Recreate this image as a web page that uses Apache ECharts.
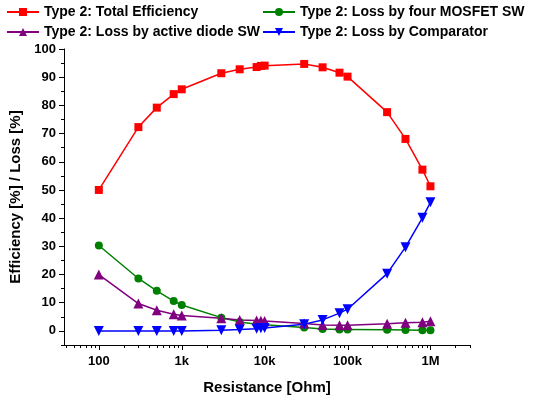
<!DOCTYPE html>
<html>
<head>
<meta charset="utf-8">
<script src="https://cdn.jsdelivr.net/npm/echarts@6/dist/echarts.min.js"></script>
<style>html,body{margin:0;padding:0;background:#fff}#c{width:541px;height:401px}</style>
</head>
<body>
<div id="c"></div>
<script>
var resistance = [100, 300, 500, 800, 1000, 3000, 5000, 8000, 9000, 10000, 30000, 50000, 80000, 100000, 300000, 500000, 800000, 1000000];
var totalEfficiency = [50.0, 72.3, 79.2, 84.0, 85.7, 91.4, 92.8, 93.6, 94.0, 94.1, 94.7, 93.5, 91.6, 90.2, 77.6, 68.1, 57.2, 51.3];
var lossMosfet = [30.3, 18.6, 14.2, 10.6, 9.2, 4.7, 3.2, 2.4, 2.3, 2.2, 1.2, 0.7, 0.5, 0.5, 0.4, 0.3, 0.2, 0.2];
var lossDiode = [20.0, 9.7, 7.3, 5.9, 5.5, 4.5, 3.9, 3.7, 3.6, 3.5, 2.6, 2.1, 2.0, 2.0, 2.5, 2.9, 3.1, 3.4];
var lossComparator = [0.0, 0.0, 0.0, 0.0, 0.0, 0.2, 0.5, 0.8, 0.9, 1.0, 2.4, 3.9, 6.3, 7.7, 20.3, 29.7, 40.1, 45.6];
var seriesNames = ['Type 2: Total Efficiency', 'Type 2: Loss by four MOSFET SW', 'Type 2: Loss by active diode SW', 'Type 2: Loss by Comparator'];
var xMajorTicks = [100, 1000, 10000, 100000, 1000000];
var xMinorTicks = [40, 50, 60, 70, 80, 90, 200, 300, 400, 500, 600, 700, 800, 900, 2000, 3000, 4000, 5000, 6000, 7000, 8000, 9000, 20000, 30000, 40000, 50000, 60000, 70000, 80000, 90000, 200000, 300000, 400000, 500000, 600000, 700000, 800000, 900000, 2000000, 3000000];
var xTickLabels = ['100', '1k', '10k', '100k', '1M'];
var yMajorTicks = [0, 10, 20, 30, 40, 50, 60, 70, 80, 90, 100];
var yMinorTicks = [-5, 5, 15, 25, 35, 45, 55, 65, 75, 85, 95];

var xMin = 38, xMax = 3000000, yMin = -5, yMax = 100;
var font = 'Arial, "Liberation Sans", sans-serif';

function pairs(vals) { return resistance.map(function (r, i) { return [r, vals[i]]; }); }

var tickData = xMajorTicks.map(function (v) { return [v, 1]; }).concat(xMinorTicks.map(function (v) { return [v, 0]; }));

var chart = echarts.init(document.getElementById('c'), null, {renderer: 'canvas'});
var labelStyle = {fontFamily: font, fontWeight: 'bold', fontSize: 13, color: '#000'};
var legendText = {fontFamily: font, fontWeight: 'bold', fontSize: 14, color: '#000'};

chart.setOption({
  animation: false,
  backgroundColor: '#fff',
  grid: {left: 64, right: 71, top: 49, bottom: 56, containLabel: false},
  legend: [
    {orient: 'vertical', left: 6, top: 5, padding: 0, itemGap: 6, itemWidth: 32, itemHeight: 10, textStyle: legendText,
     data: [seriesNames[0], seriesNames[2]]},
    {orient: 'vertical', left: 262, top: 5, padding: 0, itemGap: 6, itemWidth: 32, itemHeight: 10, textStyle: legendText,
     data: [seriesNames[1], seriesNames[3]]}
  ],
  xAxis: {
    type: 'log', logBase: 10, min: xMin, max: xMax,
    name: 'Resistance [Ohm]', nameLocation: 'middle', nameGap: 35,
    nameTextStyle: {fontFamily: font, fontWeight: 'bold', fontSize: 15, color: '#000'},
    axisLine: {show: true, onZero: false, lineStyle: {color: '#000', width: 1}},
    axisTick: {show: false},
    splitLine: {show: false},
    axisLabel: Object.assign({margin: 10, showMinLabel: false, showMaxLabel: false, formatter: function (v) {
      var i = xMajorTicks.indexOf(Math.round(v));
      return i >= 0 ? xTickLabels[i] : '';
    }}, labelStyle)
  },
  yAxis: [
    {
      type: 'value', min: yMin, max: yMax, interval: 5,
      name: 'Efficiency [%] / Loss [%]', nameLocation: 'middle', nameGap: 41,
      nameTextStyle: {fontFamily: font, fontWeight: 'bold', fontSize: 15, color: '#000'},
      axisLine: {show: true, onZero: false, lineStyle: {color: '#000', width: 1}},
      axisTick: {show: true, length: 5, customValues: yMajorTicks, lineStyle: {color: '#000'}},
      splitLine: {show: false},
      axisLabel: Object.assign({margin: 8, customValues: yMajorTicks, formatter: function (v) { return String(v); }}, labelStyle)
    },
    {
      type: 'value', min: yMin, max: yMax, interval: 5, position: 'left',
      axisLine: {show: false},
      axisTick: {show: true, length: 3, customValues: yMinorTicks, lineStyle: {color: '#000'}},
      splitLine: {show: false},
      axisLabel: {show: false}
    }
  ],
  series: [
    {name: seriesNames[0], type: 'line', data: pairs(totalEfficiency), color: '#ff0000', symbol: 'rect', symbolSize: 8,
     lineStyle: {width: 1.5}, itemStyle: {color: '#ff0000'}},
    {name: seriesNames[1], type: 'line', data: pairs(lossMosfet), color: '#008000', symbol: 'circle', symbolSize: 8,
     lineStyle: {width: 1.5}, itemStyle: {color: '#008000'}},
    {name: seriesNames[2], type: 'line', data: pairs(lossDiode), color: '#800080', symbol: 'triangle', symbolSize: 10,
     lineStyle: {width: 1.5}, itemStyle: {color: '#800080'}},
    {name: seriesNames[3], type: 'line', data: pairs(lossComparator), color: '#0000ff', symbol: 'triangle', symbolRotate: 180, symbolSize: 10,
     lineStyle: {width: 1.5}, itemStyle: {color: '#0000ff'}},
    {name: 'xticks', type: 'custom', silent: true, clip: false, data: tickData,
     renderItem: function (params, api) {
       var p = api.coord([api.value(0), yMin]);
       var len = api.value(1) ? 5 : 3;
       var x = Math.round(p[0]) + 0.5;
       return {type: 'line', shape: {x1: x, y1: p[1], x2: x, y2: p[1] + len}, style: {stroke: '#000', lineWidth: 1}};
     }}
  ]
});
</script>
</body>
</html>
